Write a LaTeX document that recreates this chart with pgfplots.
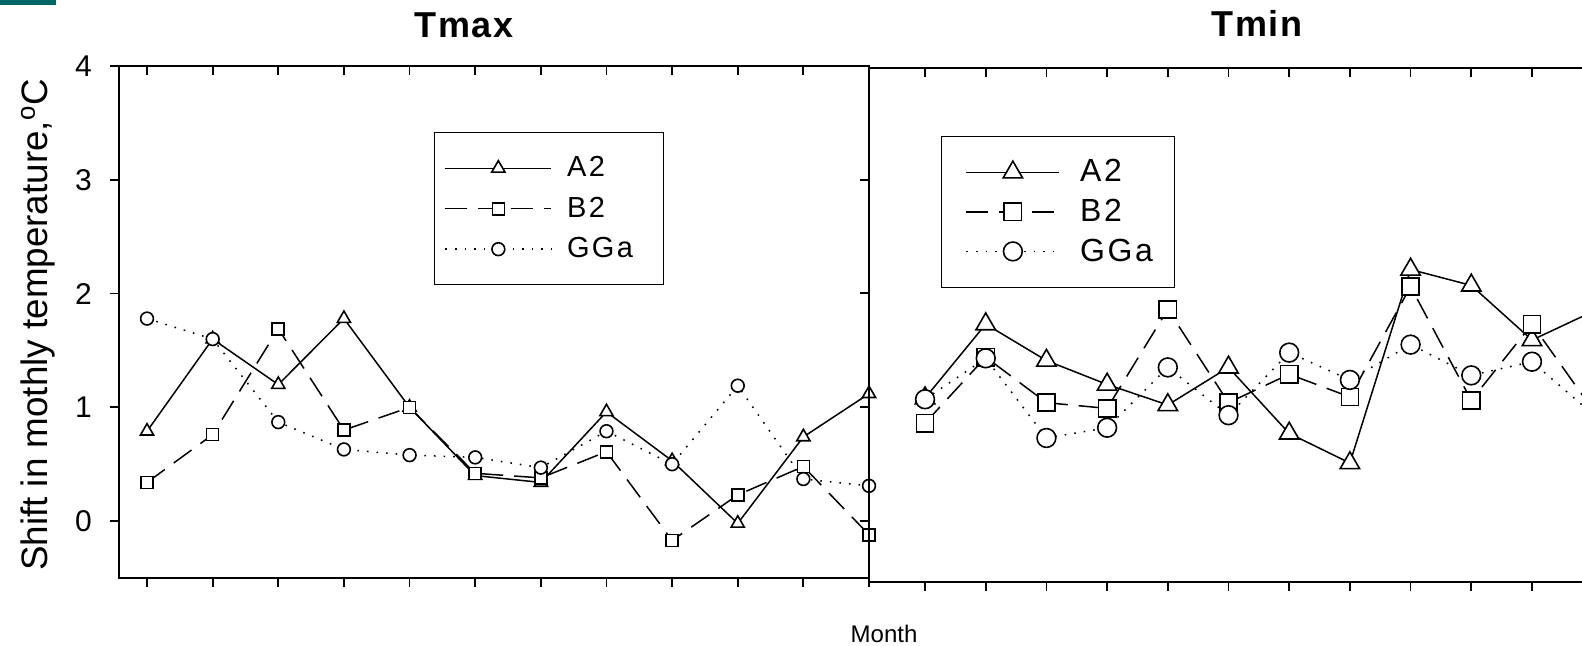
\documentclass[border=0pt]{standalone}
\usepackage{fontspec}
\setmainfont{Liberation Sans}
\newfontfamily\spaced[LetterSpace=8]{Liberation Sans}
\newfontfamily\titlefont[LetterSpace=5]{Liberation Sans}
\usepackage{pgfplots}
\usepackage{pgfplotstable}
\pgfplotsset{compat=1.18}

\pgfplotstableread{
m A2 B2 GGa
1 0.79 0.34 1.78
2 1.60 0.76 1.60
3 1.20 1.69 0.87
4 1.78 0.80 0.63
5 1.00 1.00 0.58
6 0.40 0.42 0.56
7 0.34 0.38 0.47
8 0.96 0.61 0.79
9 0.53 -0.17 0.50
10 -0.02 0.23 1.19
11 0.74 0.48 0.37
12 1.12 -0.12 0.31
}\tmax

\pgfplotstableread{
m A2 B2 GGa
1 1.08 0.86 1.07
2 1.73 1.44 1.43
3 1.41 1.04 0.73
4 1.20 0.99 0.82
5 1.02 1.86 1.35
6 1.35 1.04 0.93
7 0.77 1.29 1.48
8 0.51 1.09 1.24
9 2.21 2.06 1.55
10 2.07 1.06 1.28
11 1.59 1.73 1.40
12 1.84 0.98 0.94
}\tmin

\definecolor{slide}{RGB}{0,102,102}

\pgfplotsset{
  panel/.style={
    scale only axis,
    axis line style={line width=1pt},
    every tick/.style={black, line width=0.9pt},
    major tick length=4.5pt,
    xtick={1,2,...,12}, xticklabels={},
    ytick={0,1,2,3,4},
    /pgf/number format/assume math mode=true,
    yticklabel style={font=\fontsize{15}{17}\selectfont, xshift=-5.5pt},
  },
  sA/.style={black, line width=0.75pt, mark=triangle*, mark options={solid, fill=white, line width=0.8pt}},
  sB/.style={black, line width=0.75pt, dash pattern=on 11pt off 5.5pt, mark=square*, mark options={solid, fill=white, line width=0.8pt}},
  sG/.style={black, line width=0.75pt, dash pattern=on 0.8pt off 4pt, mark=*, mark options={solid, fill=white, line width=0.8pt}},
}

\begin{document}
\begin{tikzpicture}
\useasboundingbox (0pt,0pt) rectangle (791pt,323pt);
\clip (0pt,0pt) rectangle (791pt,323pt);
\fill[slide] (0pt,323pt) rectangle (28pt,320.5pt);

% ---------- Tmax ----------
\begin{axis}[panel,
  at={(59.5pt,34pt)}, anchor=south west,
  width=375pt, height=256pt,
  xmin=0.573, xmax=12, ymin=-0.5, ymax=4,
  xtick pos=left, ytick pos=left, tick align=outside,
  legend style={at={(0.42,0.871)}, anchor=north west, draw=black, line width=0.6pt,
    inner xsep=5pt, inner ysep=10pt, row sep=4.6pt,
    font=\spaced\fontsize{14.5}{16}\selectfont, cells={anchor=west},
    /tikz/every odd column/.append style={column sep=5.5pt}},
  legend image code/.code={\draw[mark repeat=2,mark phase=2] plot coordinates {(0pt,0pt) (26.5pt,0pt) (53pt,0pt)};},
]
\addplot[sA, mark size=3.8pt] table[x=m, y=A2] {\tmax};
\addlegendentry{\makebox[41pt][l]{A2}}
\addplot[sB, mark size=3pt] table[x=m, y=B2] {\tmax};
\addlegendentry{\makebox[41pt][l]{B2}}
\addplot[sG, mark size=3.2pt] table[x=m, y=GGa] {\tmax};
\addlegendentry{\makebox[41pt][l]{GGa}}
\end{axis}
\begin{axis}[panel,
  at={(59.5pt,34pt)}, anchor=south west,
  width=375pt, height=256pt,
  xmin=0.573, xmax=12, ymin=-0.5, ymax=4,
  xtick pos=right, ytick pos=right, tick align=inside, yticklabels={},
]
\end{axis}

% ---------- Tmin ----------
\begin{axis}[panel,
  at={(434.5pt,32pt)}, anchor=south west,
  width=377pt, height=257pt,
  xmin=0.077, xmax=12.5, ymin=-0.535, ymax=3.98,
  xtick pos=left, ytick pos=left, tick align=outside, yticklabels={},
  legend style={at={(0.0955,0.868)}, anchor=north west, draw=black, line width=0.6pt,
    inner xsep=12pt, inner ysep=9.6pt, row sep=3.1pt,
    font=\spaced\fontsize{16}{18}\selectfont, cells={anchor=west},
    /tikz/every odd column/.append style={column sep=8pt}},
  legend image code/.code={\draw[mark repeat=2,mark phase=2] plot coordinates {(0pt,0pt) (23.25pt,0pt) (46.5pt,0pt)};},
]
\addplot[sA, mark size=5.6pt] table[x=m, y=A2] {\tmin};
\addlegendentry{\makebox[33pt][l]{A2}}
\addplot[sB, mark size=4.3pt] table[x=m, y=B2] {\tmin};
\addlegendentry{\makebox[33pt][l]{B2}}
\addplot[sG, mark size=4.7pt] table[x=m, y=GGa] {\tmin};
\addlegendentry{\makebox[33pt][l]{GGa}}
\end{axis}
\begin{axis}[panel,
  at={(434.5pt,32pt)}, anchor=south west,
  width=377pt, height=257pt,
  xmin=0.077, xmax=12.5, ymin=-0.535, ymax=3.98,
  xtick pos=right, ytick pos=right, tick align=inside, yticklabels={},
]
\end{axis}

% ---------- texts ----------
\node[rotate=90, font=\fontsize{18.4}{21}\selectfont] at (19pt,160.5pt) {Shift in mothly temperature,\textsuperscript{o}C};
\node[anchor=base, font=\titlefont\bfseries\fontsize{18}{20}\selectfont] at (232pt,304pt) {Tmax};
\node[anchor=base, font=\titlefont\bfseries\fontsize{18}{20}\selectfont] at (628.5pt,304.5pt) {Tmin};
\node[anchor=base, font=\fontsize{12}{14}\selectfont] at (442pt,1.5pt) {Month};
\end{tikzpicture}
\end{document}
